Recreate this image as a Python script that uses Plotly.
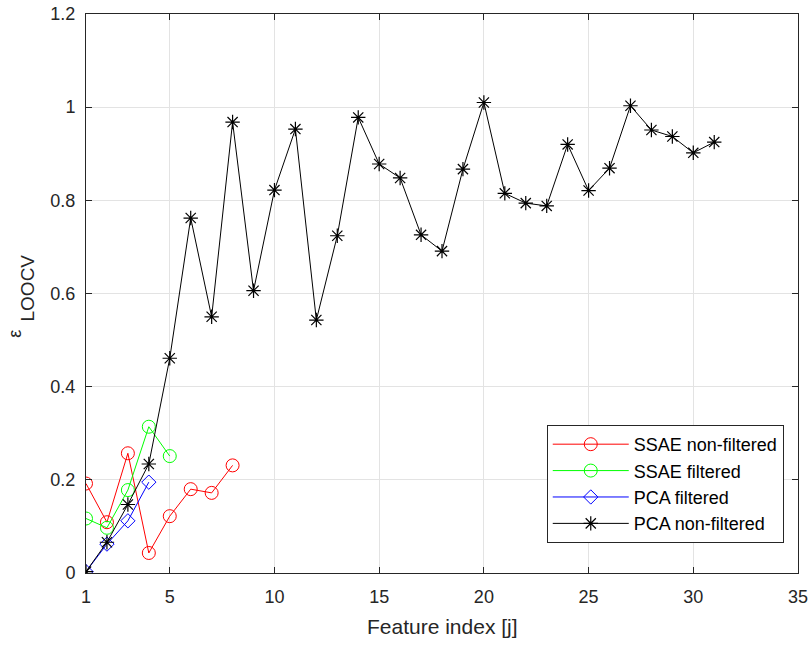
import plotly.graph_objects as go

x_ssae_nf = [1, 2, 3, 4, 5, 6, 7, 8]
y_ssae_nf = [0.192, 0.109, 0.257, 0.043, 0.122, 0.180, 0.172, 0.231]

x_ssae_f = [1, 2, 3, 4, 5]
y_ssae_f = [0.117, 0.097, 0.178, 0.314, 0.251]

x_pca_f = [1, 2, 3, 4]
y_pca_f = [0.003, 0.062, 0.112, 0.195]

x_pca_nf = list(range(1, 32))
y_pca_nf = [0.003, 0.066, 0.147, 0.234, 0.461, 0.762, 0.550, 0.968, 0.606, 0.822,
            0.953, 0.543, 0.724, 0.978, 0.878, 0.848, 0.726, 0.691, 0.867, 1.010,
            0.815, 0.794, 0.788, 0.920, 0.821, 0.869, 1.003, 0.951, 0.937, 0.902,
            0.925]

x_ticks = [1, 5, 10, 15, 20, 25, 30, 35]
y_ticks = [0, 0.2, 0.4, 0.6, 0.8, 1.0, 1.2]
y_tick_labels = ["0", "0.2", "0.4", "0.6", "0.8", "1", "1.2"]

FONT = "Liberation Sans, Arial, sans-serif"
TXT = "#262626"

fig = go.Figure()
fig.add_trace(go.Scatter(x=x_ssae_nf, y=y_ssae_nf, name="SSAE non-filtered",
                         mode="lines+markers",
                         line=dict(color="#ff0000", width=1),
                         marker=dict(symbol="circle-open", size=13, color="#ff0000",
                                     line=dict(width=1, color="#ff0000"))))
fig.add_trace(go.Scatter(x=x_ssae_f, y=y_ssae_f, name="SSAE filtered",
                         mode="lines+markers",
                         line=dict(color="#00ff00", width=1),
                         marker=dict(symbol="circle-open", size=13, color="#00ff00",
                                     line=dict(width=1, color="#00ff00"))))
fig.add_trace(go.Scatter(x=x_pca_f, y=y_pca_f, name="PCA filtered",
                         mode="lines+markers",
                         line=dict(color="#0000ff", width=1),
                         marker=dict(symbol="diamond-open", size=11, color="#0000ff",
                                     line=dict(width=1, color="#0000ff"))))
fig.add_trace(go.Scatter(x=x_pca_nf, y=y_pca_nf, name="PCA non-filtered",
                         mode="lines+markers",
                         line=dict(color="#000000", width=1),
                         marker=dict(symbol="asterisk-open", size=12, color="#000000",
                                     line=dict(width=1.2, color="#000000"))))

axis_common = dict(
    showgrid=True, gridcolor="#e3e3e3", gridwidth=1,
    showline=True, linecolor=TXT, linewidth=1, mirror="allticks",
    ticks="inside", ticklen=6, tickcolor=TXT,
    tickfont=dict(family=FONT, size=18, color=TXT),
    zeroline=False, automargin=False,
)

fig.update_layout(
    width=812, height=645,
    margin=dict(l=86, r=14, t=14, b=72),
    paper_bgcolor="white", plot_bgcolor="white",
    font=dict(family=FONT, color=TXT),
    xaxis=dict(range=[1, 35], tickvals=x_ticks, ticklabelstandoff=7, **axis_common),
    yaxis=dict(range=[0, 1.2], tickvals=y_ticks, ticktext=y_tick_labels,
               ticklabelstandoff=6, **axis_common),
    legend=dict(x=0.980, y=0.0537, xanchor="right", yanchor="bottom",
                bgcolor="white", bordercolor=TXT, borderwidth=1,
                font=dict(family=FONT, size=18, color="#000000"),
                itemwidth=76, tracegroupgap=0),
    showlegend=True,
    annotations=[
        dict(text="Feature index [j]", xref="paper", yref="paper",
             x=0.5, y=-0.0966, xanchor="center", yanchor="middle", showarrow=False,
             font=dict(family=FONT, size=21, color=TXT)),
        dict(text="ε", xref="paper", yref="paper",
             x=-0.0997, y=0.428, xanchor="center", yanchor="middle",
             textangle=-90, showarrow=False, font=dict(family=FONT, size=18, color=TXT)),
        dict(text="LOOCV", xref="paper", yref="paper",
             x=-0.0815, y=0.5107, xanchor="center", yanchor="middle",
             textangle=-90, showarrow=False, font=dict(family=FONT, size=19, color=TXT)),
    ],
)

fig.write_html("out.html", post_script="document.body.style.margin='0';",
               config={"displayModeBar": False})
